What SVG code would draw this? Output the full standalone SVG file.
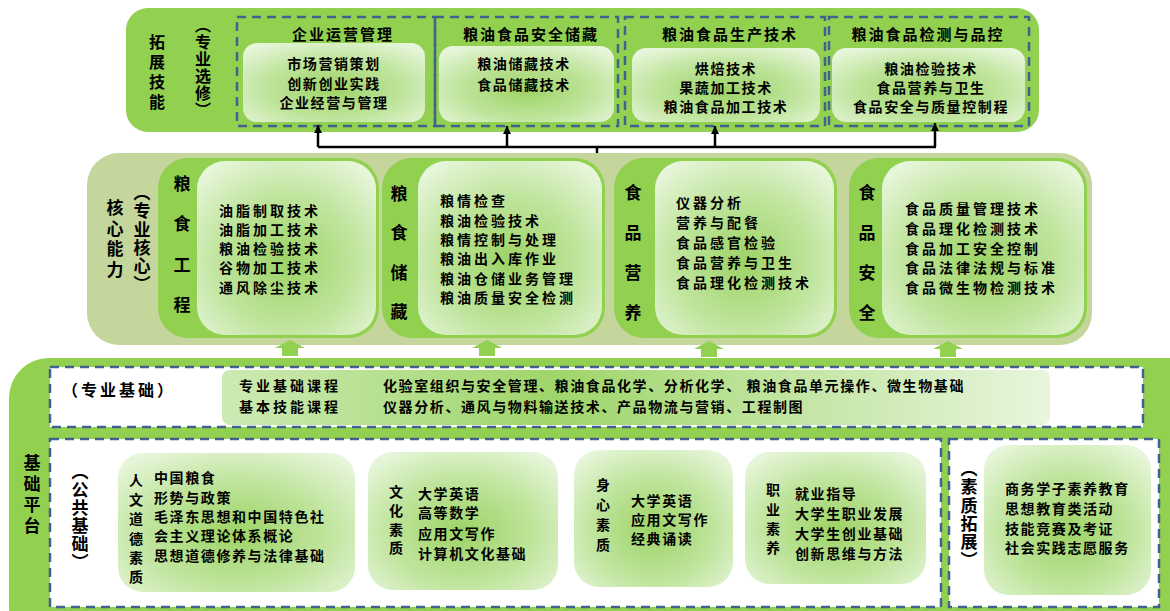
<svg xmlns="http://www.w3.org/2000/svg" width="1170" height="611" viewBox="0 0 1170 611">
<defs>
<radialGradient id="ig" cx="0.5" cy="0.58" r="0.68">
<stop offset="0" stop-color="#9dd365"/>
<stop offset="0.55" stop-color="#bfe49c"/>
<stop offset="1" stop-color="#e6f6da"/>
</radialGradient>
<linearGradient id="bg" x1="0" y1="0" x2="1" y2="0">
<stop offset="0" stop-color="#cdeab4"/>
<stop offset="0.4" stop-color="#9fd56a"/>
<stop offset="1" stop-color="#e8f6de"/>
</linearGradient>
<marker id="ah" viewBox="0 0 10 10" refX="10" refY="5" markerWidth="8" markerHeight="8" markerUnits="userSpaceOnUse" orient="auto">
<path d="M0,0 L10,5 L0,10 z" fill="#000"/>
</marker>
<polygon id="ua" points="0,0 15,8 8,8 8,16 -8,16 -8,8 -15,8" fill="#92d050"/>
</defs>
<style>
.t{font-family:"Noto Sans CJK SC","Noto Sans",sans-serif;font-weight:700;fill:#000}
.h{dominant-baseline:central}
.b{font-size:14px;letter-spacing:1.6px}
.m{font-size:14px;letter-spacing:3px}
.c{text-anchor:middle}
.ttl{font-size:15px;letter-spacing:2px}
.v{writing-mode:vertical-rl}
.dash{fill:none;stroke:#41628f;stroke-width:2.5;stroke-dasharray:9 6}
.dw{fill:#fff;stroke:#41628f;stroke-width:2.5;stroke-dasharray:9 6}
.g{fill:#92d050}
.in{fill:url(#ig)}
</style>

<g id="top-panel">
<rect x="126" y="8" width="913" height="124" rx="22" class="g"/>
<text class="t v" x="157" y="34" style="font-size:16px;letter-spacing:4px">拓展技能</text>
<text class="t v" x="203" y="17" style="font-size:16px;letter-spacing:1px">（专业选修）</text>
</g>

<g id="n-qiye">
<rect x="237" y="17" width="198" height="109" class="dash"/>
<rect x="243" y="43" width="182" height="79" rx="14" class="in"/>
<text class="t h c ttl" x="343" y="33">企业运营管理</text>
<text class="t h c b" x="334" y="63">市场营销策划</text>
<text class="t h c b" x="334" y="83">创新创业实践</text>
<text class="t h c b" x="334" y="102">企业经营与管理</text>
</g>

<g id="n-chucang">
<rect x="435" y="17" width="183" height="109" class="dash"/>
<rect x="439" y="46" width="175" height="76" rx="14" class="in"/>
<text class="t h c ttl" x="531" y="33">粮油食品安全储藏</text>
<text class="t h c b" x="524" y="63">粮油储藏技术</text>
<text class="t h c b" x="524" y="84">食品储藏技术</text>
</g>

<g id="n-shengchan">
<rect x="625" y="17" width="200" height="109" class="dash"/>
<rect x="632" y="48" width="188" height="74" rx="14" class="in"/>
<text class="t h c ttl" x="730" y="33">粮油食品生产技术</text>
<text class="t h c b" x="726" y="68">烘焙技术</text>
<text class="t h c b" x="726" y="87">果蔬加工技术</text>
<text class="t h c b" x="726" y="106">粮油食品加工技术</text>
</g>

<g id="n-jiance">
<rect x="829" y="17" width="200" height="109" class="dash"/>
<rect x="832" y="48" width="193" height="74" rx="14" class="in"/>
<text class="t h c ttl" x="928" y="33">粮油食品检测与品控</text>
<text class="t h c b" x="931" y="68">粮油检验技术</text>
<text class="t h c b" x="931" y="87">食品营养与卫生</text>
<text class="t h c b" x="931" y="106">食品安全与质量控制程</text>
</g>

<g id="connectors" stroke="#000" stroke-width="2.5" fill="none">
<path d="M318,147 H936 M597,146 V154"/>
<line x1="318" y1="147" x2="318" y2="125" marker-end="url(#ah)"/>
<line x1="507" y1="147" x2="507" y2="126" marker-end="url(#ah)"/>
<line x1="715" y1="147" x2="715" y2="126" marker-end="url(#ah)"/>
<line x1="935" y1="147" x2="935" y2="123" marker-end="url(#ah)"/>
</g>

<g id="core-panel">
<rect x="87" y="153" width="1005" height="192" rx="32" fill="#c4d69c"/>
<text class="t v" x="115" y="199" style="font-size:17px;letter-spacing:3.7px">核心能力</text>
<text class="t v" x="142" y="184" style="font-size:17px;letter-spacing:1.3px">（专业核心）</text>
</g>

<g id="n-liangshigongcheng">
<rect x="158" y="158" width="221" height="180" rx="30" class="g"/>
<rect x="197" y="161" width="179" height="174" rx="28" class="in"/>
<text class="t v" x="182" y="175" style="font-size:17px;letter-spacing:23.5px">粮食工程</text>
<text class="t h m" x="219" y="210">油脂制取技术</text>
<text class="t h m" x="219" y="229">油脂加工技术</text>
<text class="t h m" x="219" y="248">粮油检验技术</text>
<text class="t h m" x="219" y="267">谷物加工技术</text>
<text class="t h m" x="219" y="287">通风除尘技术</text>
</g>

<g id="n-liangshichucang">
<rect x="382" y="158" width="223" height="180" rx="30" class="g"/>
<rect x="418" y="161" width="184" height="174" rx="28" class="in"/>
<text class="t v" x="399" y="185" style="font-size:17px;letter-spacing:22.5px">粮食储藏</text>
<text class="t h m" x="440" y="200">粮情检查</text>
<text class="t h m" x="440" y="220">粮油检验技术</text>
<text class="t h m" x="440" y="239">粮情控制与处理</text>
<text class="t h m" x="440" y="258">粮油出入库作业</text>
<text class="t h m" x="440" y="278">粮油仓储业务管理</text>
<text class="t h m" x="440" y="297">粮油质量安全检测</text>
</g>

<g id="n-shipinyingyang">
<rect x="614" y="158" width="223" height="180" rx="30" class="g"/>
<rect x="655" y="161" width="179" height="174" rx="28" class="in"/>
<text class="t v" x="633" y="184" style="font-size:17px;letter-spacing:23px">食品营养</text>
<text class="t h m" x="676" y="202">仪器分析</text>
<text class="t h m" x="676" y="222">营养与配餐</text>
<text class="t h m" x="676" y="242">食品感官检验</text>
<text class="t h m" x="676" y="262">食品营养与卫生</text>
<text class="t h m" x="676" y="282">食品理化检测技术</text>
</g>

<g id="n-shipinanquan">
<rect x="849" y="158" width="238" height="180" rx="30" class="g"/>
<rect x="882" y="161" width="202" height="174" rx="28" class="in"/>
<text class="t v" x="867" y="184" style="font-size:17px;letter-spacing:23px">食品安全</text>
<text class="t h m" x="905" y="208">食品质量管理技术</text>
<text class="t h m" x="905" y="228">食品理化检测技术</text>
<text class="t h m" x="905" y="248">食品加工安全控制</text>
<text class="t h m" x="905" y="267">食品法律法规与标准</text>
<text class="t h m" x="905" y="287">食品微生物检测技术</text>
</g>

<g id="up-arrows">
<use href="#ua" x="290" y="340"/>
<use href="#ua" x="487" y="340"/>
<use href="#ua" x="709" y="341"/>
<use href="#ua" x="948" y="341"/>
</g>

<g id="base-panel">
<rect x="9" y="358" width="1200" height="290" rx="40" class="g"/>
<text class="t v" x="32" y="454" style="font-size:17px;letter-spacing:4px">基础平台</text>
</g>

<g id="n-zhuanyejichu">
<rect x="50" y="367" width="1093" height="60" class="dw"/>
<rect x="222" y="370" width="828" height="55" rx="8" fill="url(#bg)"/>
<text class="t h" x="62" y="389" style="font-size:16px;letter-spacing:3px">（专业基础）</text>
<text class="t h m" x="239" y="385">专业基础课程</text>
<text class="t h m" x="239" y="406">基本技能课程</text>
<text class="t h b" x="383" y="385">化验室组织与安全管理、粮油食品化学、分析化学、 粮油食品单元操作、微生物基础</text>
<text class="t h b" x="383" y="406">仪器分析、通风与物料输送技术、产品物流与营销、工程制图</text>
</g>

<g id="n-gonggongjichu">
<rect x="50" y="439" width="891" height="168" class="dw"/>
<text class="t v" x="80" y="463" style="font-size:17px;letter-spacing:1px">（公共基础）</text>
</g>

<g id="n-renwen">
<rect x="118" y="453" width="237" height="139" rx="25" class="in"/>
<text class="t v" x="136" y="473" style="font-size:14px;letter-spacing:5.4px">人文道德素质</text>
<text class="t h b" x="154" y="477">中国粮食</text>
<text class="t h b" x="154" y="497">形势与政策</text>
<text class="t h b" x="154" y="516">毛泽东思想和中国特色社</text>
<text class="t h b" x="154" y="535">会主义理论体系概论</text>
<text class="t h b" x="154" y="555">思想道德修养与法律基础</text>
</g>

<g id="n-wenhua">
<rect x="368" y="452" width="190" height="138" rx="25" class="in"/>
<text class="t v" x="396" y="485" style="font-size:14px;letter-spacing:4.7px">文化素质</text>
<text class="t h b" x="418" y="493">大学英语</text>
<text class="t h b" x="418" y="512">高等数学</text>
<text class="t h b" x="418" y="533">应用文写作</text>
<text class="t h b" x="418" y="553">计算机文化基础</text>
</g>

<g id="n-shenxin">
<rect x="574" y="450" width="159" height="137" rx="25" class="in"/>
<text class="t v" x="603" y="478" style="font-size:14px;letter-spacing:6px">身心素质</text>
<text class="t h b" x="631" y="500">大学英语</text>
<text class="t h b" x="631" y="519">应用文写作</text>
<text class="t h b" x="631" y="538">经典诵读</text>
</g>

<g id="n-zhiye">
<rect x="745" y="452" width="181" height="132" rx="25" class="in"/>
<text class="t v" x="773" y="483" style="font-size:14px;letter-spacing:5.3px">职业素养</text>
<text class="t h b" x="795" y="493">就业指导</text>
<text class="t h b" x="795" y="513">大学生职业发展</text>
<text class="t h b" x="795" y="533">大学生创业基础</text>
<text class="t h b" x="795" y="553">创新思维与方法</text>
</g>

<g id="n-suzhituozhan">
<rect x="949" y="439" width="210" height="168" class="dw"/>
<rect x="984" y="445" width="167" height="150" rx="25" class="in"/>
<text class="t v" x="969" y="460" style="font-size:17px;letter-spacing:1.3px">（素质拓展）</text>
<text class="t h b" x="1005" y="488">商务学子素养教育</text>
<text class="t h b" x="1005" y="508">思想教育类活动</text>
<text class="t h b" x="1005" y="528">技能竞赛及考证</text>
<text class="t h b" x="1005" y="547">社会实践志愿服务</text>
</g>
</svg>
